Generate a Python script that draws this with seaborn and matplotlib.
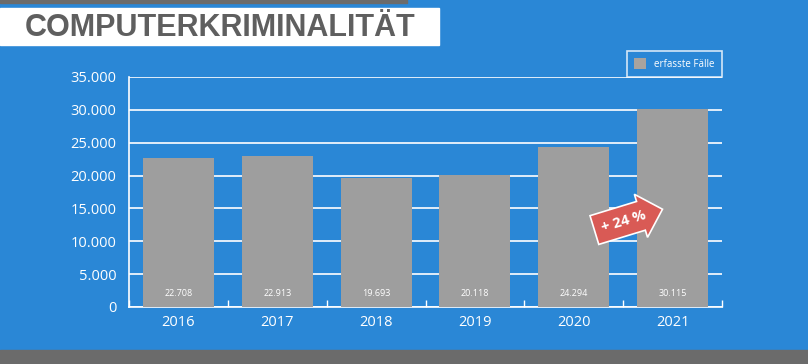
import pandas as pd
import matplotlib.pyplot as plt
import seaborn as sns
from matplotlib.patches import Rectangle, Patch

# Data
years = ["2016", "2017", "2018", "2019", "2020", "2021"]
cases = [22708, 22913, 19693, 20118, 24294, 30115]
value_labels = ["22.708", "22.913", "19.693", "20.118", "24.294", "30.115"]
y_ticks = [0, 5000, 10000, 15000, 20000, 25000, 30000, 35000]
y_tick_labels = ["0", "5.000", "10.000", "15.000", "20.000", "25.000", "30.000", "35.000"]

BLUE = "#2a87d6"
BAR = "#9e9e9e"
DARK = "#6b6b6b"

df = pd.DataFrame({"Jahr": years, "Faelle": cases})

plt.rcParams['font.family'] = ['Open Sans', 'DejaVu Sans']

fig = plt.figure(figsize=(8.08, 3.64), dpi=100, facecolor=BLUE)

# top strip, title box and bottom band
fig.patches.append(Rectangle((0, 1 - 3 / 364), 407 / 808, 3 / 364, transform=fig.transFigure,
                             color=DARK, zorder=0))
fig.patches.append(Rectangle((0, 1 - 45 / 364), 439 / 808, 37 / 364, transform=fig.transFigure,
                             color="white", zorder=0))
fig.patches.append(Rectangle((0, 0), 1, 14 / 364, transform=fig.transFigure,
                             color=DARK, zorder=0))
fig.text(25 / 808, 1 - 27.5 / 364, "COMPUTERKRIMINALITÄT", fontsize=22, fontweight="bold",
         color="#5f5f5f", va="center", ha="left", family=["Liberation Sans", "DejaVu Sans"])

ax = fig.add_axes([129 / 808, 57 / 364, 593 / 808, 230 / 364])
ax.set_facecolor(BLUE)
sns.barplot(data=df, x="Jahr", y="Faelle", color=BAR, width=0.72, saturation=1,
            ax=ax, zorder=3)

ax.set_xlim(-0.5, 5.5)
ax.set_ylim(0, 35000)
ax.set_yticks(y_ticks)
ax.set_yticklabels(y_tick_labels)
ax.set_xlabel("")
ax.set_ylabel("")
ax.yaxis.grid(True, color="white", linewidth=1.2, zorder=1)
ax.set_axisbelow(True)

for side in ["top", "right"]:
    ax.spines[side].set_visible(False)
for side in ["left", "bottom"]:
    ax.spines[side].set_color("white")
    ax.spines[side].set_linewidth(1.2)

ax.tick_params(axis="y", colors="white", labelsize=10.5, length=0, pad=9)
ax.tick_params(axis="x", colors="white", labelsize=10.5, length=0, pad=6)

# small upward ticks between categories
ax.set_xticks([-0.5, 0.5, 1.5, 2.5, 3.5, 4.5, 5.5], minor=True)
ax.tick_params(axis="x", which="minor", direction="in", length=5, color="white", width=1)

for i, lab in enumerate(value_labels):
    ax.text(i, 2100, lab, ha="center", va="center", color="white", fontsize=6.5, zorder=4)

leg = ax.legend(handles=[Patch(facecolor="#a8a39e", edgecolor="none", label="erfasste Fälle")],
                loc="lower right", bbox_to_anchor=(1.0, 1.0), frameon=True, fontsize=7,
                handlelength=1.3, handleheight=1.3, borderpad=0.75, fancybox=False,
                labelcolor="white", borderaxespad=0)
leg.get_frame().set_facecolor(BLUE)
leg.get_frame().set_edgecolor("white")
leg.get_frame().set_linewidth(1.2)

# red growth arrow
fig.text(624 / 808, 1 - 221 / 364, "+ 24 %", rotation=17, ha="center", va="center",
         color="white", fontsize=10.5, fontweight="bold",
         bbox=dict(boxstyle="rarrow,pad=0.55", fc="#d95a55", ec="white", lw=1.2))

fig.savefig("out.png", dpi=100, facecolor=BLUE)
